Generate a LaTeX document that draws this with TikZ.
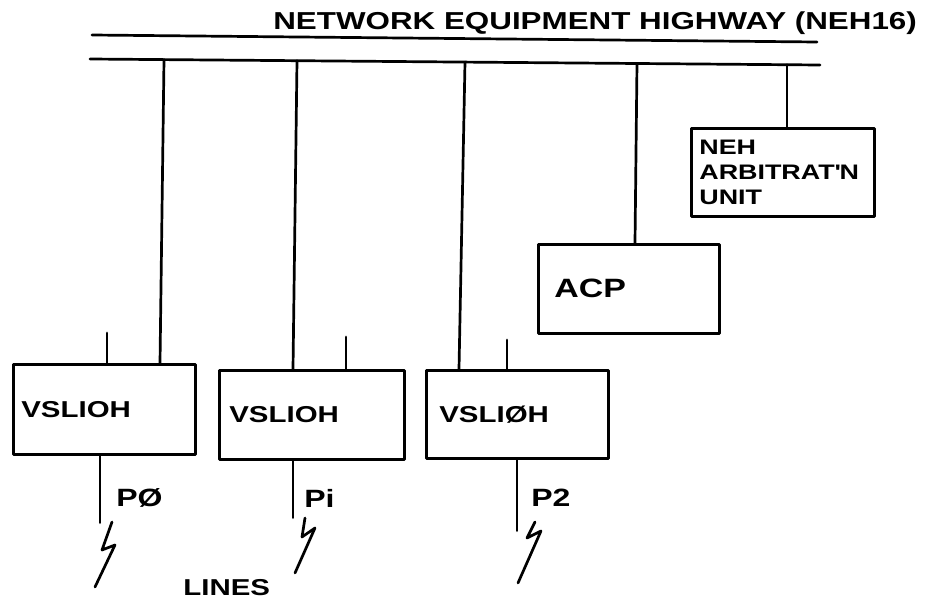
\documentclass[tikz,border=0pt]{standalone}
\usepackage{fontspec}
\setmainfont{Liberation Sans}[FakeStretch=1.28,UprightFont=* Bold]
\begin{document}
\begin{tikzpicture}[x=1pt,y=-1pt,line width=2.7pt,line cap=round,line join=round,
  box/.style={draw,rectangle,inner ysep=0pt,align=left,anchor=north west},
  vtext/.style={font=\fontsize{23}{28}\selectfont},
  plabel/.style={anchor=west,inner sep=0pt,font=\fontsize{25}{30}\selectfont}]
\useasboundingbox (0,0) rectangle (930,602);
% title and highway
\node[anchor=base west,inner sep=0pt,font=\fontsize{24.5}{30}\selectfont] (title) at (272,30)
  {NETWORK EQUIPMENT HIGHWAY (NEH16)};
\coordinate (ulL) at (92,35);
\coordinate (ulR) at (817,42);
\draw (ulL) -- (ulR);
\coordinate (busL) at (90,59);
\coordinate (busR) at (820,65);
\draw (busL) -- (busR);
\coordinate (t1) at (164,59.6);
\coordinate (t2) at (297,60.7);
\coordinate (t3) at (465,62.1);
\coordinate (t4) at (637,63.5);
\coordinate (t5) at (787,64.7);
% boxes
\node[box,inner xsep=8pt,text width=166pt,minimum height=90pt,vtext] (v1) at (12,363) {VSLIOH};
\node[box,inner xsep=10pt,text width=165pt,minimum height=89pt,vtext] (v2) at (218,369) {VSLIOH};
\node[box,inner xsep=13pt,text width=156pt,minimum height=88pt,vtext] (v3) at (425,369) {VSLI\O H};
\node[box,inner xsep=16pt,text width=149pt,minimum height=89pt,font=\fontsize{26.5}{30}\selectfont] (acp) at (537,243) {ACP};
\node[box,inner xsep=8pt,text width=167pt,minimum height=88pt,font=\fontsize{21}{25}\selectfont] (neh) at (690,127)
  {NEH\\ARBITRAT\textquotesingle N\\UNIT};
% connectors from the highway
\draw (t1) -- ([xshift=148pt]v1.north west);
\draw (t2) -- ([xshift=75pt]v2.north west);
\draw (t3) -- ([xshift=34pt]v3.north west);
\draw (t4) -- ([xshift=98pt]acp.north west);
\draw (t5) -- ([xshift=97pt]neh.north west);
% short stubs above the VSLIOH boxes
\draw ([xshift=95pt]v1.north west) -- ++(0,-30);
\draw ([xshift=128pt]v2.north west) -- ++(0,-32);
\draw ([xshift=82pt]v3.north west) -- ++(0,-29);
% line stubs below
\draw ([xshift=88pt]v1.south west) -- ++(0,67) coordinate (e1);
\draw ([xshift=75pt]v2.south west) -- ++(0,57) coordinate (e2);
\draw ([xshift=92pt]v3.south west) -- ++(0,71) coordinate (e3);
% port labels
\node[plabel] (p0) at (115,498) {P\O};
\node[plabel] (p1) at (303,498) {Pi};
\node[plabel] (p2) at (530,498) {P2};
% lightning symbols (lines)
\draw (112,522) -- (102,550) -- (115,545) -- (95,587);
\draw (305,518) -- (302,537) -- (315,528) -- (295,573);
\draw (535,522) -- (527,538) -- (541,531) -- (518,583);
\node[anchor=west,inner sep=0pt,font=\fontsize{23}{28}\selectfont] (lines) at (182,588) {LINES};
\end{tikzpicture}
\end{document}
